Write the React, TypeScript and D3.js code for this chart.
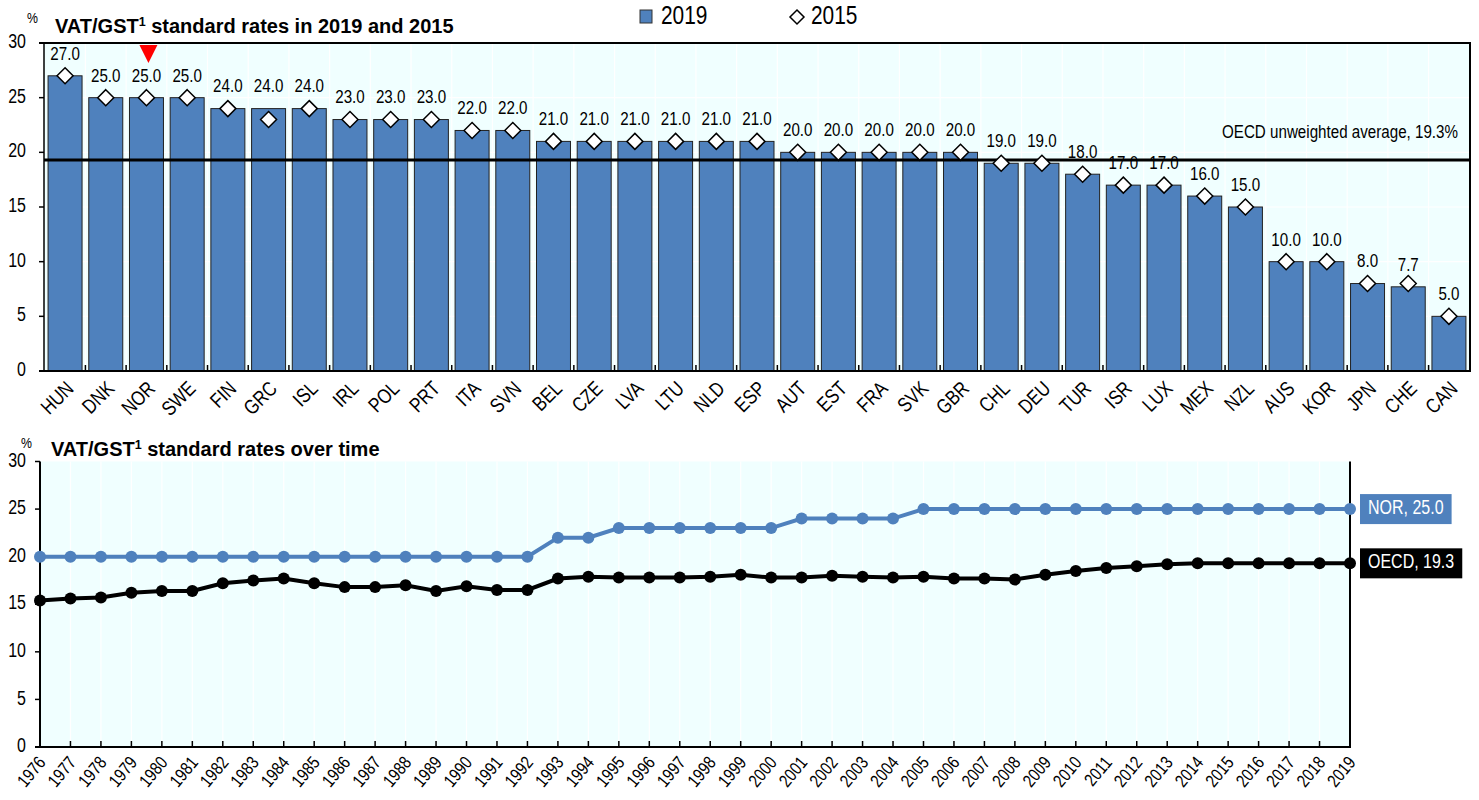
import React, { useEffect, useRef } from "react";
import * as d3 from "d3";

const countries = ["HUN","DNK","NOR","SWE","FIN","GRC","ISL","IRL","POL","PRT","ITA","SVN","BEL","CZE","LVA","LTU","NLD","ESP","AUT","EST","FRA","SVK","GBR","CHL","DEU","TUR","ISR","LUX","MEX","NZL","AUS","KOR","JPN","CHE","CAN"];
const rates2019 = [27,25,25,25,24,24,24,23,23,23,22,22,21,21,21,21,21,21,20,20,20,20,20,19,19,18,17,17,16,15,10,10,8,7.7,5];
const rates2015 = [27,25,25,25,24,23,24,23,23,23,22,22,21,21,21,21,21,21,20,20,20,20,20,19,19,18,17,17,16,15,10,10,8,8,5];
const oecdAverage2019 = 19.3;
const highlightedCountry = "NOR";
const yTicks = [0, 5, 10, 15, 20, 25, 30];

const years = [1976,1977,1978,1979,1980,1981,1982,1983,1984,1985,1986,1987,1988,1989,1990,1991,1992,1993,1994,1995,1996,1997,1998,1999,2000,2001,2002,2003,2004,2005,2006,2007,2008,2009,2010,2011,2012,2013,2014,2015,2016,2017,2018,2019];
const norRates = [20,20,20,20,20,20,20,20,20,20,20,20,20,20,20,20,20,22,22,23,23,23,23,23,23,24,24,24,24,25,25,25,25,25,25,25,25,25,25,25,25,25,25,25];
const oecdRates = [15.4,15.6,15.7,16.2,16.4,16.4,17.2,17.5,17.7,17.2,16.8,16.8,17.0,16.4,16.9,16.5,16.5,17.7,17.9,17.8,17.8,17.8,17.9,18.1,17.8,17.8,18.0,17.9,17.8,17.9,17.7,17.7,17.6,18.1,18.5,18.8,19.0,19.2,19.3,19.3,19.3,19.3,19.3,19.3];

const FONT = "'Liberation Sans', Arial, sans-serif";
const BLUE = "#4f81bd";
const BG = "#f0ffff";
const N = 0.82; // horizontal condensing to mimic Arial Narrow

export default function App() {
  const ref = useRef<SVGSVGElement>(null);

  useEffect(() => {
    const svg = d3.select(ref.current);
    svg.selectAll("*").remove();
    svg.attr("font-family", FONT);

    const ntext = (parent: any, X: number, Y: number, str: string, size: number, anchor = "start", fill = "#000") =>
      parent.append("text")
        .attr("transform", `translate(${X},${Y}) scale(${N},1)`)
        .attr("text-anchor", anchor).attr("dominant-baseline", "middle")
        .attr("font-size", size).attr("fill", fill).text(str);

    // ---------- TOP CHART ----------
    const T = { left: 44, right: 1470, top: 43, bottom: 371 };
    const x = d3.scaleBand<string>().domain(countries).range([T.left, T.right]).paddingInner(0.165).paddingOuter(0.1);
    const y = d3.scaleLinear().domain([0, 30]).range([T.bottom, T.top]);
    const cx = (c: string) => (x(c) as number) + x.bandwidth() / 2;
    const boundaries = countries.slice(1).map((c, i) => (cx(countries[i]) + cx(c)) / 2);

    const top = svg.append("g");
    top.append("rect").attr("x", T.left).attr("y", T.top).attr("width", T.right - T.left).attr("height", T.bottom - T.top).attr("fill", BG);
    top.selectAll(".hg").data(yTicks.filter(v => v > 0 && v < 30)).enter().append("line")
      .attr("x1", T.left).attr("x2", T.right).attr("y1", d => y(d)).attr("y2", d => y(d))
      .attr("stroke", "#fff").attr("stroke-width", 1.2);
    top.selectAll(".vg").data(boundaries).enter().append("line")
      .attr("x1", d => d).attr("x2", d => d).attr("y1", T.top).attr("y2", T.bottom)
      .attr("stroke", "#fff").attr("stroke-width", 1.2);

    top.selectAll(".bar").data(countries).enter().append("rect")
      .attr("x", d => x(d) as number).attr("width", x.bandwidth())
      .attr("y", (d, i) => y(rates2019[i])).attr("height", (d, i) => T.bottom - y(rates2019[i]))
      .attr("fill", BLUE).attr("stroke", "#222").attr("stroke-width", 1);

    // OECD average line
    top.append("line").attr("x1", T.left).attr("x2", T.right).attr("y1", y(oecdAverage2019)).attr("y2", y(oecdAverage2019))
      .attr("stroke", "#000").attr("stroke-width", 3);
    ntext(top, 1458, y(oecdAverage2019) - 27, `OECD unweighted average, ${oecdAverage2019}%`, 18.5, "end");

    // diamonds 2015
    const dia = (s: number) => `M0,${-s}L${s},0L0,${s}L${-s},0Z`;
    top.selectAll(".dia").data(countries).enter().append("path")
      .attr("d", dia(8))
      .attr("transform", (d, i) => `translate(${cx(d)},${y(rates2015[i])})`)
      .attr("fill", "#fff").attr("stroke", "#000").attr("stroke-width", 1.5);

    // value labels
    top.selectAll(".lbl").data(countries).enter().append("text")
      .attr("transform", (d, i) => `translate(${cx(d)},${y(rates2019[i]) - 21}) scale(${N},1)`)
      .attr("text-anchor", "middle").attr("dominant-baseline", "middle")
      .attr("font-size", 18.5).attr("fill", "#000")
      .text((d, i) => rates2019[i].toFixed(1));

    // frame
    top.append("line").attr("x1", T.left - 5).attr("x2", T.right + 1).attr("y1", T.top).attr("y2", T.top).attr("stroke", "#000").attr("stroke-width", 2);
    top.append("line").attr("x1", T.right).attr("x2", T.right).attr("y1", T.top).attr("y2", T.bottom).attr("stroke", "#000").attr("stroke-width", 2);
    top.append("line").attr("x1", T.left).attr("x2", T.left).attr("y1", T.top).attr("y2", T.bottom).attr("stroke", "#000").attr("stroke-width", 1.5);
    top.append("line").attr("x1", T.left - 5).attr("x2", T.right + 1).attr("y1", T.bottom).attr("y2", T.bottom).attr("stroke", "#000").attr("stroke-width", 2);

    // y ticks
    top.selectAll(".yt").data(yTicks).enter().append("line")
      .attr("x1", T.left - 5).attr("x2", T.left).attr("y1", d => y(d)).attr("y2", d => y(d))
      .attr("stroke", "#000").attr("stroke-width", 1.5);
    yTicks.forEach(v => ntext(top, 26, y(v), String(v), 19.5, "end"));

    // x ticks (inside)
    top.selectAll(".xt").data(boundaries).enter().append("line")
      .attr("x1", d => d).attr("x2", d => d).attr("y1", T.bottom).attr("y2", T.bottom - 6)
      .attr("stroke", "#000").attr("stroke-width", 1.5);
    top.selectAll(".xl").data(countries).enter().append("text")
      .attr("transform", d => `translate(${cx(d) + 6},${T.bottom + 15}) rotate(-45) scale(${N},1)`)
      .attr("text-anchor", "end").attr("dominant-baseline", "middle")
      .attr("font-size", 20.5).attr("fill", "#000").text(d => d);

    // highlight triangle
    const hx = cx(highlightedCountry) + 2;
    top.append("path").attr("d", `M${hx - 9},45L${hx + 9},45L${hx},63Z`).attr("fill", "#ff0000");

    // title
    ntext(top, 27, 19, "%", 15);
    const t1 = top.append("text").attr("x", 55).attr("y", 33).attr("font-size", 20).attr("font-weight", "bold").attr("fill", "#000");
    t1.append("tspan").text("VAT/GST");
    t1.append("tspan").attr("font-size", 12.5).attr("dy", -7).text("1");
    t1.append("tspan").attr("dy", 7).text(" standard rates in 2019 and 2015");

    // legend
    top.append("rect").attr("x", 640).attr("y", 10).attr("width", 12).attr("height", 13).attr("fill", BLUE).attr("stroke", "#333").attr("stroke-width", 1);
    ntext(top, 661, 17, "2019", 25.5);
    top.append("path").attr("d", dia(7)).attr("transform", "translate(797,17)").attr("fill", "#fff").attr("stroke", "#000").attr("stroke-width", 1.5);
    ntext(top, 811, 17, "2015", 25.5);

    // ---------- BOTTOM CHART ----------
    const B = { left: 40, right: 1350, top: 461.5, bottom: 747 };
    const xs = d3.scalePoint<number>().domain(years).range([B.left, B.right]);
    const ys = d3.scaleLinear().domain([0, 30]).range([B.bottom, B.top]);
    const bot = svg.append("g");
    bot.append("rect").attr("x", B.left).attr("y", B.top).attr("width", B.right - B.left).attr("height", B.bottom - B.top).attr("fill", BG);
    bot.selectAll(".vg").data(years).enter().append("line")
      .attr("x1", d => xs(d) as number).attr("x2", d => xs(d) as number).attr("y1", B.top).attr("y2", B.bottom)
      .attr("stroke", "#fff").attr("stroke-width", 1.2);

    bot.append("line").attr("x1", B.left).attr("x2", B.left).attr("y1", B.top).attr("y2", B.bottom).attr("stroke", "#000").attr("stroke-width", 2);
    bot.append("line").attr("x1", B.right).attr("x2", B.right).attr("y1", B.top).attr("y2", B.bottom).attr("stroke", "#000").attr("stroke-width", 2);
    bot.append("line").attr("x1", B.left - 5).attr("x2", B.right + 1).attr("y1", B.bottom).attr("y2", B.bottom).attr("stroke", "#000").attr("stroke-width", 2);
    bot.selectAll(".yt").data(yTicks).enter().append("line")
      .attr("x1", B.left - 5).attr("x2", B.left).attr("y1", d => ys(d)).attr("y2", d => ys(d))
      .attr("stroke", "#000").attr("stroke-width", 1.5);
    yTicks.forEach(v => ntext(bot, 26, ys(v), String(v), 19.5, "end"));
    bot.selectAll(".xt").data(years).enter().append("line")
      .attr("x1", d => xs(d) as number).attr("x2", d => xs(d) as number).attr("y1", B.bottom).attr("y2", B.bottom - 6)
      .attr("stroke", "#000").attr("stroke-width", 1.5);
    bot.selectAll(".xl").data(years).enter().append("text")
      .attr("transform", d => `translate(${(xs(d) as number) + 3},${B.bottom + 13}) rotate(-50) scale(${N},1)`)
      .attr("text-anchor", "end").attr("dominant-baseline", "middle")
      .attr("font-size", 18).attr("fill", "#000").text(d => d);

    const series = [
      { name: "NOR", values: norRates, color: BLUE },
      { name: "OECD", values: oecdRates, color: "#000" },
    ];
    const line = d3.line<number>().x((d, i) => xs(years[i]) as number).y(d => ys(d));
    series.forEach(s => {
      bot.append("path").attr("d", line(s.values) as string).attr("fill", "none").attr("stroke", s.color).attr("stroke-width", 4);
      bot.selectAll(`.pt-${s.name}`).data(s.values).enter().append("circle")
        .attr("cx", (d, i) => xs(years[i]) as number).attr("cy", d => ys(d)).attr("r", 6).attr("fill", s.color);
      const last = s.values[s.values.length - 1];
      const g = bot.append("g");
      const rect = g.append("rect").attr("fill", s.color);
      const txt = ntext(g, 1368, ys(last), `${s.name}, ${last.toFixed(1)}`, 19.5, "start", "#fff");
      const bb = (txt.node() as SVGTextElement).getBBox();
      rect.attr("x", 1360).attr("y", ys(last) - 15).attr("width", bb.width * N + 16).attr("height", 30);
    });

    ntext(bot, 21, 444, "%", 15);
    const t2 = bot.append("text").attr("x", 51).attr("y", 456).attr("font-size", 20).attr("font-weight", "bold").attr("fill", "#000");
    t2.append("tspan").text("VAT/GST");
    t2.append("tspan").attr("font-size", 12.5).attr("dy", -7).text("1");
    t2.append("tspan").attr("dy", 7).text(" standard rates over time");
  }, []);

  return (
    <svg ref={ref} width={1479} height={800} style={{ position: "absolute", left: 0, top: 0, background: "#fff" }} />
  );
}
